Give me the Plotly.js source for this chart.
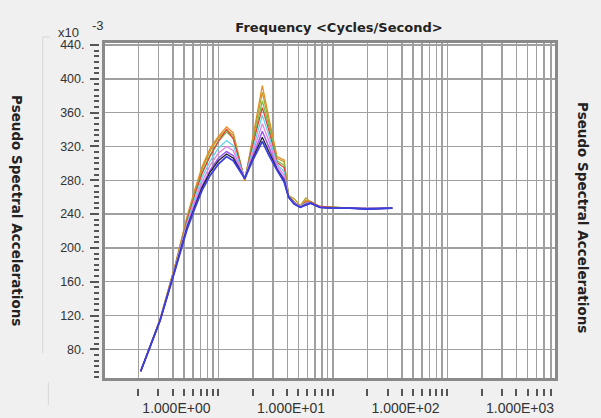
<!DOCTYPE html>
<html>
<head>
<meta charset="utf-8">
<script src="https://cdn.plot.ly/plotly-3.0.1.min.js"></script>
<style>html,body{margin:0;padding:0;background:#f0f0f0;}#chart{width:601px;height:418px;}</style>
</head>
<body>
<div id="chart"></div>
<script>
// ---- data (frequency in Hz, pseudo spectral acceleration x10^-3) ----
const freq = [0.21, 0.31, 0.42, 0.53, 0.62, 0.72, 0.85, 1.0, 1.18, 1.35, 1.7, 2.0, 2.42, 2.75, 3.25, 3.75, 4.1, 4.6, 5.2, 5.8, 6.4, 7.7, 10, 14, 20, 33];
const orangeVals = [54,116,180,236,268,296,318,332,343,336,279,330,392,355,308,304,262,254,249,256,255,249,248,247,247,247];
const oliveVals  = [54,116,179,234,266,293,315,330,340,333,280,328,384,350,306,302,262,258,250,259,254,249,248,247,247,247];
const greenVals  = [54,115,178,232,263,289,310,326,337,330,281,325,374,345,303,298,261,254,249,254,254,249,248,247,247,247];
const redVals    = [54,115,178,231,262,288,309,326,340,329,281,322,366,340,301,295,261,254,249,254,254,249,248,247,247,247];
const cyanVals   = [54,115,177,228,258,283,303,318,327,321,282,317,357,334,299,290,261,253,249,253,253,248,247,247,247,247];
const pinkVals   = [54,115,176,226,254,278,298,312,320,315,282,312,347,327,297,286,260,253,249,252,253,248,247,247,247,247];
const violetVals = [54,114,175,224,250,273,292,306,314,309,282,308,338,320,294,282,260,252,248,252,253,248,247,247,246,247];
const blackVals  = [54,114,175,223,248,271,290,303,311,306,282,306,331,315,293,280,260,252,248,251,253,248,247,247,246,247];
const blueVals   = [54,114,174,221,246,268,286,299,308,303,282,304,326,310,292,278,260,252,248,251,253,248,247,247,246,247];

const seriesVals = [orangeVals, oliveVals, greenVals, redVals, cyanVals, pinkVals, violetVals, blackVals, blueVals];
const seriesColors = ['#f08a24', '#b9a02c', '#6cc24a', '#e2443a', '#5fd3ee', '#e680e6', '#9b5cf5', '#222222', '#3b3fe0'];
const seriesWidths = [1.3, 1.3, 1.3, 1.3, 1.3, 1.3, 1.5, 1.3, 1.8];

const yTickVals = [80, 120, 160, 200, 240, 280, 320, 360, 400, 440];
const yTickText = ['80.', '120.', '160.', '200.', '240.', '280.', '320.', '360.', '400.', '440.'];
const xDecades = [0, 1, 2, 3];
const xTickText = ['1.000E+00', '1.000E+01', '1.000E+02', '1.000E+03'];

// ---- geometry helpers ----
const W = 601, H = 418;
const mL = 99, mR = 46, mT = 43, mB = 30;
const pw = W - mL - mR, ph = H - mT - mB;
const px = v => (v - mL) / pw;
const py = v => 1 - (v - mT) / ph;

const xRange = [-0.994, 2.939];
const yRange = [45.7, 442.4];
const labelShift = -0.366; // label placement relative to decade

// x grid / minor ticks at 1..9 per decade
const xGrid = [];
for (let d = -1; d <= 2; d++) for (let m = 1; m <= 9; m++) {
  const v = m * Math.pow(10, d);
  const lv = Math.log10(v);
  if (lv >= xRange[0] - 0.01 && lv <= xRange[1] + 0.005) xGrid.push(v);
}
const xLabelPos = xDecades.map(d => Math.pow(10, d + labelShift));
// y minor ticks
const yMinor = [];
for (let k = 0; k < 80; k++) {
  const v = 40 + k * 40 / 6;
  const r = (v - 40) % 40;
  if (v > yRange[0] && v < yRange[1] && r > 0.5 && r < 39.5) yMinor.push(v);
}

const traces = seriesVals.map((vals, i) => ({
  x: freq, y: vals, type: 'scatter', mode: 'lines',
  line: {color: seriesColors[i], width: seriesWidths[i]},
  showlegend: false, hoverinfo: 'skip'
}));
traces.push({x: [], y: [], xaxis: 'x2', yaxis: 'y2', type: 'scatter', mode: 'lines', showlegend: false, hoverinfo: 'skip'});

const font = 'Liberation Sans, Arial, sans-serif';
const boldFont = 'DejaVu Sans, Verdana, sans-serif';

const layout = {
  width: W, height: H,
  paper_bgcolor: '#f0f0f0', plot_bgcolor: '#ffffff',
  margin: {l: mL, r: mR, t: mT, b: mB, pad: 0},
  showlegend: false,
  font: {family: font, size: 13, color: '#333333'},
  title: {text: '<b>Frequency &lt;Cycles/Second&gt;</b>', x: 339 / W, xanchor: 'center', y: 1 - 27 / H, yanchor: 'middle',
          font: {family: boldFont, size: 13, color: '#222222'}},
  xaxis: {
    type: 'log', range: xRange, domain: [px(104.5), 1],
    tickmode: 'array', tickvals: xGrid, showticklabels: false, ticks: '',
    showgrid: true, gridcolor: '#a0a0a0', gridwidth: 1.5,
    showline: true, mirror: true, linecolor: '#8a8a8a', linewidth: 3, zeroline: false
  },
  yaxis: {
    range: yRange, domain: [py(378.3), 1],
    tickmode: 'array', tickvals: yTickVals, showticklabels: false, ticks: '',
    showgrid: true, gridcolor: '#a0a0a0', gridwidth: 1.5,
    showline: true, mirror: true, linecolor: '#8a8a8a', linewidth: 3, zeroline: false
  },
  xaxis2: {
    type: 'log', range: xRange, overlaying: 'x', anchor: 'free', position: 0, side: 'bottom',
    tickmode: 'array', tickvals: xLabelPos, ticktext: xTickText, ticks: '',
    ticklabelstandoff: 10,
    tickfont: {family: font, size: 14, color: '#333333'},
    minor: {tickmode: 'array', tickvals: xGrid, ticks: 'outside', ticklen: 7, tickwidth: 2, tickcolor: '#555555', showgrid: false},
    showgrid: false, showline: false, zeroline: false
  },
  yaxis2: {
    range: yRange, overlaying: 'y', anchor: 'free', position: 0, side: 'left',
    tickmode: 'array', tickvals: yTickVals, ticktext: yTickText,
    ticks: 'outside', ticklen: 9, tickwidth: 2, tickcolor: '#555555',
    ticklabelstandoff: 3,
    tickfont: {family: font, size: 12.5, color: '#333333'},
    minor: {tickmode: 'array', tickvals: yMinor, ticks: 'outside', ticklen: 5, tickwidth: 2, tickcolor: '#555555', showgrid: false},
    showgrid: false, showline: false, zeroline: false
  },
  annotations: [
    {text: '<b>Pseudo Spectral Accelerations</b>', textangle: 90, xref: 'paper', yref: 'paper',
     x: px(17), y: py(210), xanchor: 'center', yanchor: 'middle', showarrow: false,
     font: {family: boldFont, size: 13.5, color: '#222222'}},
    {text: '<b>Pseudo Spectral Accelerations</b>', textangle: 90, xref: 'paper', yref: 'paper',
     x: px(583), y: py(217), xanchor: 'center', yanchor: 'middle', showarrow: false,
     font: {family: boldFont, size: 13.5, color: '#222222'}},
    {text: 'x10', xref: 'paper', yref: 'paper', x: px(81), y: py(32), xanchor: 'right', yanchor: 'middle',
     showarrow: false, font: {family: font, size: 13, color: '#333333'}},
    {text: '-3', xref: 'paper', yref: 'paper', x: px(90), y: py(26), xanchor: 'left', yanchor: 'middle',
     showarrow: false, font: {family: font, size: 13, color: '#333333'}}
  ],
  shapes: [
    {type: 'line', xref: 'paper', yref: 'paper', x0: px(42.7), x1: px(42.7), y0: py(37), y1: py(353), line: {color: '#d6d6d6', width: 1}},
    {type: 'line', xref: 'paper', yref: 'paper', x0: px(42.7), x1: px(50), y0: py(37), y1: py(37), line: {color: '#d6d6d6', width: 1}},
    {type: 'line', xref: 'paper', yref: 'paper', x0: px(48.3), x1: px(48.3), y0: py(382), y1: py(405), line: {color: '#d6d6d6', width: 1}}
  ]
};

Plotly.newPlot('chart', traces, layout, {staticPlot: true, displayModeBar: false});
</script>
</body>
</html>
